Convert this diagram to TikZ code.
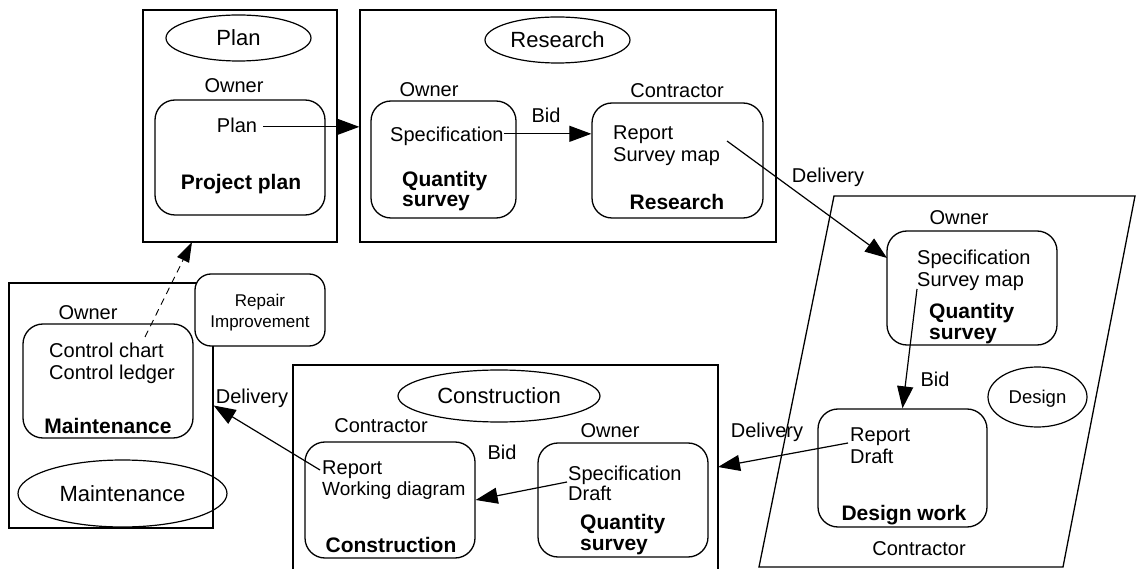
\documentclass[tikz,border=0pt]{standalone}
\usepackage{fontspec}
\setmainfont{Liberation Sans}
\usetikzlibrary{arrows.meta,shapes.geometric}
\newcommand\mynf{\fontsize{20}{22}\selectfont}
\newcommand\mybf{\fontsize{21}{22}\selectfont\bfseries}
\newcommand\myel{\fontsize{22}{24}\selectfont}
\begin{document}
\begin{tikzpicture}[x=1pt,y=-1pt,
  container/.style={draw,line width=1.3pt,inner sep=0pt},
  rbox/.style={draw,line width=1.3pt,rounded corners=20pt,inner sep=0pt},
  oval/.style={draw,ellipse,line width=1.2pt,inner sep=0pt,text depth=0pt,font=\myel},
  txt/.style={inner sep=0pt,font=\mynf},
  btxt/.style={inner sep=0pt,font=\mybf},
  arr/.style={line width=1.2pt,-{Triangle[length=22pt,width=16pt]}}]
\useasboundingbox (0,0) rectangle (1136,569);
\fill[white] (0,0) rectangle (1136,569);

% containers
\node[container,minimum width=194pt,minimum height=232pt] (plan) at (240,126) {};
\node[container,minimum width=416pt,minimum height=232pt] (research) at (568,126) {};
\node[container,minimum width=425pt,minimum height=212pt] (constr) at (505.5,471) {};
\node[container,minimum width=204pt,minimum height=245pt] (maint) at (111,405.5) {};
\draw[line width=1.3pt] (834,196) -- (1135,196) -- (1063,567) -- (759,567) -- cycle;

% rounded boxes
\node[rbox,minimum width=170pt,minimum height=115pt] (pOwner) at (240,157.5) {};
\node[rbox,minimum width=145pt,minimum height=117pt] (rOwner) at (443.5,159.5) {};
\node[rbox,minimum width=171pt,minimum height=115pt] (rCon) at (677.5,160.5) {};
\node[rbox,minimum width=170pt,minimum height=114pt] (dOwner) at (972,288) {};
\node[rbox,minimum width=169pt,minimum height=118pt] (dCon) at (902.5,468) {};
\node[rbox,minimum width=170pt,minimum height=116pt] (cCon) at (390,500) {};
\node[rbox,minimum width=170pt,minimum height=114pt] (cOwner) at (623,500) {};
\node[rbox,minimum width=170pt,minimum height=114pt] (mOwner) at (108,381) {};
\node[rbox,fill=white,rounded corners=16pt,minimum width=130pt,minimum height=72pt] (repair) at (260,310) {};

% ellipses
\node[oval,minimum width=145pt,minimum height=46pt] (ePlan) at (238.5,38) {Plan};
\node[oval,minimum width=145pt,minimum height=46pt] (eRes) at (557.5,40) {Research};
\node[oval,minimum width=202pt,minimum height=52pt] (eCon) at (499,396) {Construction};
\node[oval,minimum width=209pt,minimum height=67pt] (eMaint) at (122.5,493.5) {Maintenance};
\node[oval,minimum width=99pt,minimum height=60pt,font=\fontsize{18.5}{20}\selectfont] (eDes) at (1037.5,397) {Design};

% plan texts
\node[txt,anchor=base] (pOwnerL) at (234,93) {Owner};
\node[txt,anchor=base] (tPlan) at (237,133) {Plan};
\node[btxt,anchor=base] (tPP) at (241,190) {Project plan};

% research texts
\node[txt,anchor=base] (rOwnerL) at (429,97) {Owner};
\node[txt,anchor=base] (rBid) at (546,123) {Bid};
\node[txt,anchor=base west] (rSpec) at (390,142) {Specification};
\node[btxt,anchor=base west] (rQ1) at (402,187) {Quantity};
\node[btxt,anchor=base west] (rQ2) at (402,207) {survey};
\node[txt,anchor=base] (rConL) at (677,98) {Contractor};
\node[txt,anchor=base west] (rRep) at (613,140) {Report};
\node[txt,anchor=base west] (rMap) at (613,162) {Survey map};
\node[btxt,anchor=base] (rRes) at (677,210) {Research};

% design texts
\node[txt,anchor=base] (dDel1) at (828,183) {Delivery};
\node[txt,anchor=base] (dOwnerL) at (959,225) {Owner};
\node[txt,anchor=base west] (dSpec) at (917,265) {Specification};
\node[txt,anchor=base west] (dMap) at (917,287) {Survey map};
\node[btxt,anchor=base west] (dQ1) at (929,319) {Quantity};
\node[btxt,anchor=base west] (dQ2) at (929,340) {survey};
\node[txt,anchor=base] (dBid) at (935,387) {Bid};
\node[txt,anchor=base west] (dRep) at (850,442) {Report};
\node[txt,anchor=base west] (dDraft) at (850,463) {Draft};
\node[btxt,anchor=base] (dWork) at (904,520) {Design work};
\node[txt,anchor=base] (dConL) at (919,555) {Contractor};
\node[txt,anchor=base] (dDel2) at (767,438) {Delivery};

% construction texts
\node[txt,anchor=base] (cConL) at (381,432) {Contractor};
\node[txt,anchor=base] (cBid) at (502,460) {Bid};
\node[txt,anchor=base] (cOwnerL) at (610,437) {Owner};
\node[txt,anchor=base west] (cRep) at (322,475) {Report};
\node[txt,anchor=base west,font=\fontsize{19}{22}\selectfont] (cWork) at (322,495) {Working diagram};
\node[btxt,anchor=base] (cCons) at (391,552) {Construction};
\node[txt,anchor=base west] (cSpec) at (568,480) {Specification};
\node[txt,anchor=base west] (cDraft) at (568,500) {Draft};
\node[btxt,anchor=base west] (cQ1) at (580,529) {Quantity};
\node[btxt,anchor=base west] (cQ2) at (580,550) {survey};

% maintenance texts
\node[txt,anchor=base] (mOwnerL) at (88,320) {Owner};
\node[txt,anchor=base west] (mChart) at (49,358) {Control chart};
\node[txt,anchor=base west] (mLedger) at (49,380) {Control ledger};
\node[btxt,anchor=base] (mMaint) at (108,433) {Maintenance};
\node[inner sep=0pt,font=\fontsize{17}{18}\selectfont,anchor=base] (rpA) at (260,307) {Repair};
\node[inner sep=0pt,font=\fontsize{17}{18}\selectfont,anchor=base] (rpB) at (260,328) {Improvement};
\node[txt,anchor=base] (mDel) at (252,403) {Delivery};

% connector end points
\coordinate (dl1) at (727,141);
\coordinate (dl2) at (887,258);
\coordinate (db1) at (917,289);
\coordinate (dd1) at (848,443);
\coordinate (dd2) at (718,467);
\coordinate (cb1) at (567,482);
\coordinate (md1) at (320,470);
\coordinate (dsh) at (145,337);
\coordinate (dsh2) at (192,242);

% connectors
\draw[arr] ([xshift=6pt,yshift=-1pt]tPlan.east) -- ([yshift=-1pt]tPlan.east -| research.west);
\draw[arr] ([yshift=3pt]rSpec.east) -- ([yshift=3pt]rSpec.east -| rCon.west);
\draw[arr] (dl1) -- (dl2);
\draw[arr] (db1) -- (dCon.north);
\draw[arr] (dd1) -- (dd2);
\draw[arr] (cb1) -- (cCon.east);
\draw[arr] (md1) -- (maint.east);
\draw[line width=0.9pt,dash pattern=on 7pt off 5pt,-{Triangle[length=20pt,width=13pt]}] (dsh) -- (dsh2);
\end{tikzpicture}
\end{document}
